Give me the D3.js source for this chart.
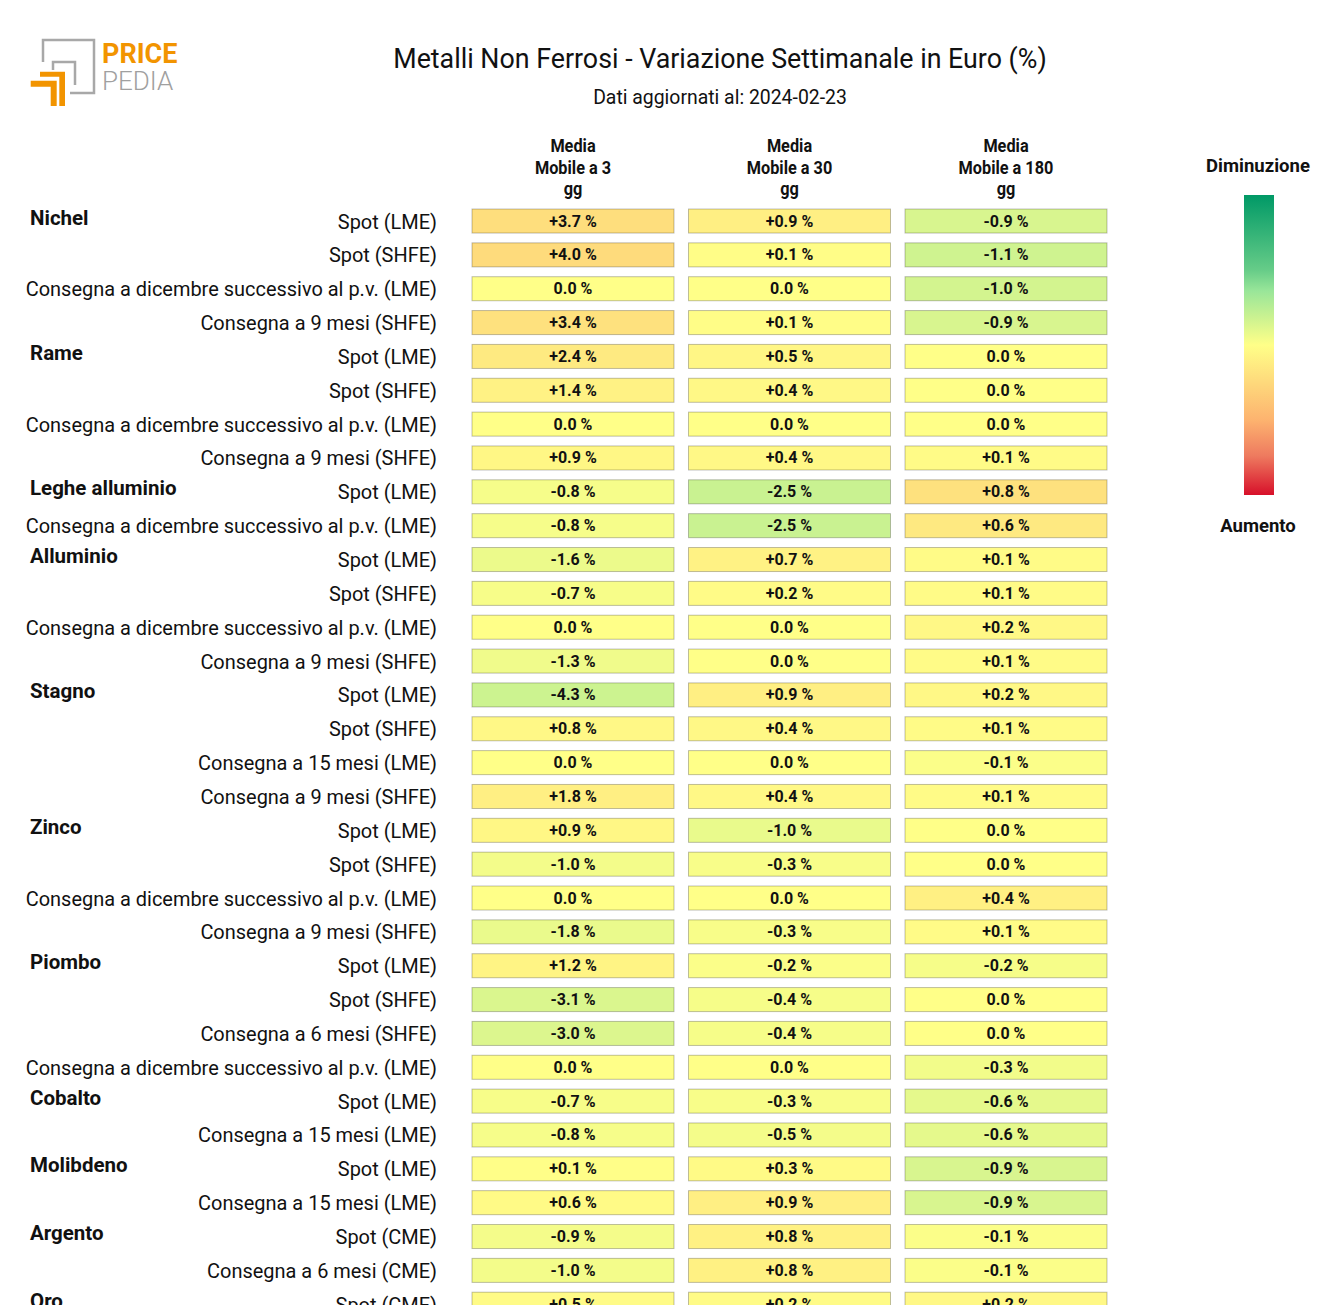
<!DOCTYPE html>
<html><head><meta charset="utf-8">
<script src="https://cdn.jsdelivr.net/npm/d3@7"></script>
<style>
body{margin:0;background:#fff;overflow:hidden}
svg{display:block;font-family:Roboto,"Noto Sans",sans-serif}
</style>
</head><body>
<svg id="c" width="1320" height="1305"></svg>
<script>
const title = "Metalli Non Ferrosi - Variazione Settimanale in Euro (%)";
const subtitle = "Dati aggiornati al: 2024-02-23";
const columnHeaders = [["Media","Mobile a 3","gg"],["Media","Mobile a 30","gg"],["Media","Mobile a 180","gg"]];
const legendTop = "Diminuzione";
const legendBottom = "Aumento";
const metals = ["Nichel","","","","Rame","","","","Leghe alluminio","","Alluminio","","","","Stagno","","","","Zinco","","","","Piombo","","","","Cobalto","","Molibdeno","","Argento","","Oro"];
const DIC = "Consegna a dicembre successivo al p.v. (LME)";
const instruments = ["Spot (LME)","Spot (SHFE)",DIC,"Consegna a 9 mesi (SHFE)",
  "Spot (LME)","Spot (SHFE)",DIC,"Consegna a 9 mesi (SHFE)",
  "Spot (LME)",DIC,
  "Spot (LME)","Spot (SHFE)",DIC,"Consegna a 9 mesi (SHFE)",
  "Spot (LME)","Spot (SHFE)","Consegna a 15 mesi (LME)","Consegna a 9 mesi (SHFE)",
  "Spot (LME)","Spot (SHFE)",DIC,"Consegna a 9 mesi (SHFE)",
  "Spot (LME)","Spot (SHFE)","Consegna a 6 mesi (SHFE)",DIC,
  "Spot (LME)","Consegna a 15 mesi (LME)",
  "Spot (LME)","Consegna a 15 mesi (LME)",
  "Spot (CME)","Consegna a 6 mesi (CME)",
  "Spot (CME)"];
const ma3   = [3.7,4.0,0.0,3.4, 2.4,1.4,0.0,0.9, -0.8,-0.8, -1.6,-0.7,0.0,-1.3, -4.3,0.8,0.0,1.8, 0.9,-1.0,0.0,-1.8, 1.2,-3.1,-3.0,0.0, -0.7,-0.8, 0.1,0.6, -0.9,-1.0, 0.5];
const ma30  = [0.9,0.1,0.0,0.1, 0.5,0.4,0.0,0.4, -2.5,-2.5, 0.7,0.2,0.0,0.0, 0.9,0.4,0.0,0.4, -1.0,-0.3,0.0,-0.3, -0.2,-0.4,-0.4,0.0, -0.3,-0.5, 0.3,0.9, 0.8,0.8, 0.2];
const ma180 = [-0.9,-1.1,-1.0,-0.9, 0.0,0.0,0.0,0.1, 0.8,0.6, 0.1,0.1,0.2,0.1, 0.2,0.1,-0.1,0.1, 0.0,0.0,0.4,0.1, -0.2,0.0,0.0,-0.3, -0.6,-0.6, -0.9,-0.9, -0.1,-0.1, 0.2];
// colour-scale extents per column: [negative side, positive side]
const colorNeg = [24, 13, 6.5];
const colorPos = [17, 8.5, 4.1];

const series = [ma3, ma30, ma180];
const gradStops = [0, 0.25, 0.32, 0.5, 0.75, 0.87, 1];
const gradColors = ["#009966","#66cc88","#99e699","#ffff88","#fdb36f","#ee7a5f","#d7102a"];

const svg = d3.select("#c");
function condense(sel, f){
  sel.each(function(){
    const w = this.getComputedTextLength();
    d3.select(this).attr("textLength", w*f).attr("lengthAdjust","spacingAndGlyphs");
  });
  return sel;
}

// logo
const logo = svg.append("g");
logo.append("path").attr("d","M43,62V40H94V93H70").attr("fill","none").attr("stroke","#a8a8a8").attr("stroke-width",2.5);
logo.append("path").attr("d","M53,70V62H75V85").attr("fill","none").attr("stroke","#a8a8a8").attr("stroke-width",2.5);
logo.append("path").attr("d","M40,71.7H65V106H59.3V76.7H40Z").attr("fill","#f29400");
logo.append("path").attr("d","M30.7,80.7H56.7V106H50.7V86.7H30.7Z").attr("fill","#f29400");
condense(logo.append("text").attr("x",102).attr("y",63).attr("font-size",27).attr("font-weight",700).attr("fill","#f29400").text("PRICE"),1.0);
condense(logo.append("text").attr("x",102).attr("y",90).attr("font-size",26).attr("font-weight",300).attr("fill","#a0a0a0").text("PEDIA"),1.0);

// titles
condense(svg.append("text").attr("x",720).attr("y",68).attr("text-anchor","middle").attr("font-size",28).attr("fill","#111").text(title),0.957);
condense(svg.append("text").attr("x",720).attr("y",104).attr("text-anchor","middle").attr("font-size",20).attr("fill","#111").text(subtitle),0.97);

// scales
const n = instruments.length;
const step = 33.85;
const y = d3.scaleBand().domain(d3.range(n)).range([204.1, 204.1 + n*step]).paddingInner(0.29).paddingOuter(0.145);
const x = d3.scaleBand().domain(d3.range(3)).range([464.75, 464.75 + 3*216.5]).paddingInner(0.067).paddingOuter(0.0335);
const colorT = d3.scaleLinear().domain(gradStops).range(gradColors).clamp(true);
const colorScales = colorNeg.map((mn, i) => d3.scaleLinear().domain([-mn, 0, colorPos[i]]).range([0, 0.5, 1]).clamp(true));
const fmt = v => (v > 0 ? "+" : v < 0 ? "-" : "") + Math.abs(v).toFixed(1) + " %";

// column headers
columnHeaders.forEach((lines, c) => {
  lines.forEach((ln, i) => {
    condense(svg.append("text").attr("x", x(c) + x.bandwidth()/2).attr("y", 152 + i*21.5)
      .attr("text-anchor","middle").attr("font-size",17.5).attr("font-weight",700).attr("fill","#111").text(ln), 0.93);
  });
});

// rows
const rows = svg.append("g");
d3.range(n).forEach(r => {
  const cy = y(r) + y.bandwidth()/2;
  if (metals[r]) {
    condense(rows.append("text").attr("x",30).attr("y",cy+3.5).attr("font-size",20.5).attr("font-weight",700).attr("fill","#111").text(metals[r]), 1.0);
  }
  condense(rows.append("text").attr("x",437).attr("y",cy+7.5).attr("text-anchor","end").attr("font-size",21).attr("fill","#111").text(instruments[r]), 0.95);
  series.forEach((s, c) => {
    const v = s[r];
    rows.append("rect").attr("x",x(c)).attr("y",y(r)).attr("width",x.bandwidth()).attr("height",y.bandwidth())
      .attr("fill", colorT(colorScales[c](v))).attr("stroke","rgba(0,0,0,0.25)").attr("stroke-width",1);
    condense(rows.append("text").attr("x",x(c)+x.bandwidth()/2).attr("y",cy+5.5).attr("text-anchor","middle")
      .attr("font-size",16.5).attr("font-weight",700).attr("fill","#111").text(fmt(v)), 0.97);
  });
});

// legend
const defs = svg.append("defs");
const lg = defs.append("linearGradient").attr("id","lg").attr("x1",0).attr("y1",0).attr("x2",0).attr("y2",1);
gradStops.forEach((s,i)=> lg.append("stop").attr("offset",s).attr("stop-color",gradColors[i]));
svg.append("rect").attr("x",1244).attr("y",195).attr("width",30).attr("height",300).attr("fill","url(#lg)");
condense(svg.append("text").attr("x",1258).attr("y",172).attr("text-anchor","middle").attr("font-size",19).attr("font-weight",700).attr("fill","#111").text(legendTop), 0.975);
condense(svg.append("text").attr("x",1258).attr("y",532).attr("text-anchor","middle").attr("font-size",19).attr("font-weight",700).attr("fill","#111").text(legendBottom), 0.975);
</script>
</body></html>
